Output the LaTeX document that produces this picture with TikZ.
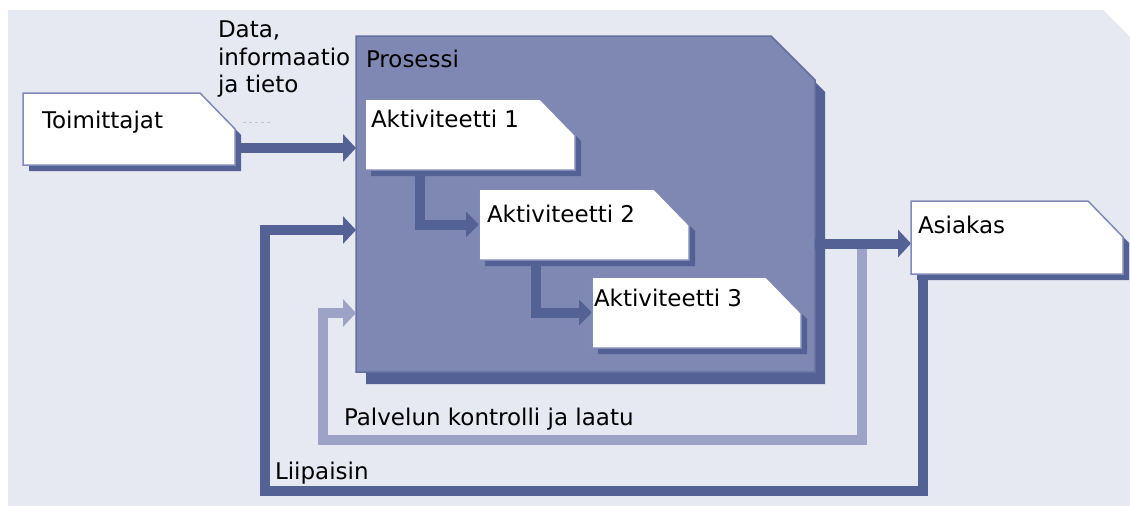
\documentclass[tikz,border=0pt]{standalone}
\usepackage{fontspec}
\setmainfont{DejaVu Sans}
\usetikzlibrary{arrows.meta,calc}
\definecolor{bgc}{RGB}{230,232,242}
\definecolor{procfill}{RGB}{127,136,179}
\definecolor{procline}{RGB}{100,111,158}
\definecolor{darkb}{RGB}{84,97,148}
\definecolor{lightb}{RGB}{156,163,199}
\definecolor{boxline}{RGB}{128,138,182}
\newcommand\cutpath[4]{([shift={#4}]#1.north west) -- ([shift={#4},xshift=-#2]#1.north east) -- ([shift={#4},yshift=-#3]#1.north east) -- ([shift={#4}]#1.south east) -- ([shift={#4}]#1.south west) -- cycle}
\begin{document}
\begin{tikzpicture}[x=1pt,y=-1pt,
  every node/.style={inner sep=0pt,outer sep=0pt},
  area/.style={anchor=north west,minimum width=#1},
  lbl/.style={anchor=base west,font=\fontsize{23pt}{27pt}\selectfont,text=black},
  darr/.style={draw=darkb,line width=10pt,line join=miter,-{Triangle[length=13pt,width=27pt]}},
  larr/.style={draw=lightb,line width=10pt,line join=miter,-{Triangle[length=13pt,width=27pt]}},
  sarr/.style={draw=darkb,line width=10pt,line join=miter,-{Triangle[length=13pt,width=25pt]}},
  shadowfill/.style={fill=darkb},
  whitebox/.style={fill=white,draw=boxline,line width=1.5pt},
  procbox/.style={fill=procfill,draw=procline,line width=1.5pt}]
\useasboundingbox (0,0) rectangle (1130,506);
\fill[white] (0,0) rectangle (1130,506);
\fill[bgc] (8,10) -- (1103,10) -- (1130,37) -- (1130,506) -- (8,506) -- cycle;

% nodes (areas)
\node[area=212pt,minimum height=72pt] (tm) at (23,93) {};
\node[area=459pt,minimum height=336pt] (pr) at (356,36) {};
\node[area=210pt,minimum height=71pt] (a1) at (365,99) {};
\node[area=210pt,minimum height=71pt] (a2) at (479,189) {};
\node[area=209pt,minimum height=71pt] (a3) at (592,277) {};
\node[area=212pt,minimum height=73pt] (as) at (911,201) {};

% process box
\fill[shadowfill] \cutpath{pr}{44pt}{44pt}{(10,12)};
\filldraw[procbox] \cutpath{pr}{44pt}{44pt}{(0,0)};

% coordinates for connectors
\coordinate (tmo) at ([yshift=17pt]tm.south east);
\coordinate (a1o) at ([xshift=55pt]a1.south west);
\coordinate (a2o) at ([xshift=57pt]a2.south west);
\coordinate (asi) at ([yshift=-6pt]as.west);
\coordinate (br) at ([xshift=-49pt]asi);
\coordinate (lc) at (323,440);
\coordinate (pin) at ([yshift=-109pt]pr.west);
\coordinate (aso) at ([xshift=12pt]as.south west);
\coordinate (lc2) at (265,491);
\coordinate (pin2) at ([yshift=-26pt]pr.west);
\coordinate (ds1) at (243,122);
\coordinate (ds2) at (270,122);

% connectors
\draw[larr] (br) |- (lc) |- (pin);
\draw[darr] (asi -| pr.east) -- (asi);
\draw[darr] (aso) |- (lc2) |- (pin2);
\draw[darr] (tmo) -- (tmo -| pr.west);
\draw[sarr] (a1o) |- (a2.west);
\draw[sarr] (a2o) |- (a3.west);
\draw[gray!45,line width=0.8pt,dash pattern=on 3pt off 3pt] (ds1) -- (ds2);

% white boxes
\foreach \n in {tm,a1,a2,a3,as}{
  \fill[shadowfill] \cutpath{\n}{35pt}{36pt}{(6,6)};
  \filldraw[whitebox] \cutpath{\n}{35pt}{36pt}{(0,0)};
}

% texts
\node[lbl] (tmt) at (42,128) {Toimittajat};
\node[lbl] (d1) at (218,37) {Data,};
\node[lbl] (d2) at (218,65) {informaatio};
\node[lbl] (d3) at (218,92) {ja tieto};
\node[lbl] (prt) at (366,67) {Prosessi};
\node[lbl] (a1t) at (371,127) {Aktiviteetti 1};
\node[lbl] (a2t) at (487,222) {Aktiviteetti 2};
\node[lbl] (a3t) at (594,306) {Aktiviteetti 3};
\node[lbl] (ast) at (918,233) {Asiakas};
\node[lbl] (pkt) at (344,425) {Palvelun kontrolli ja laatu};
\node[lbl] (lit) at (275,479) {Liipaisin};
\end{tikzpicture}
\end{document}
